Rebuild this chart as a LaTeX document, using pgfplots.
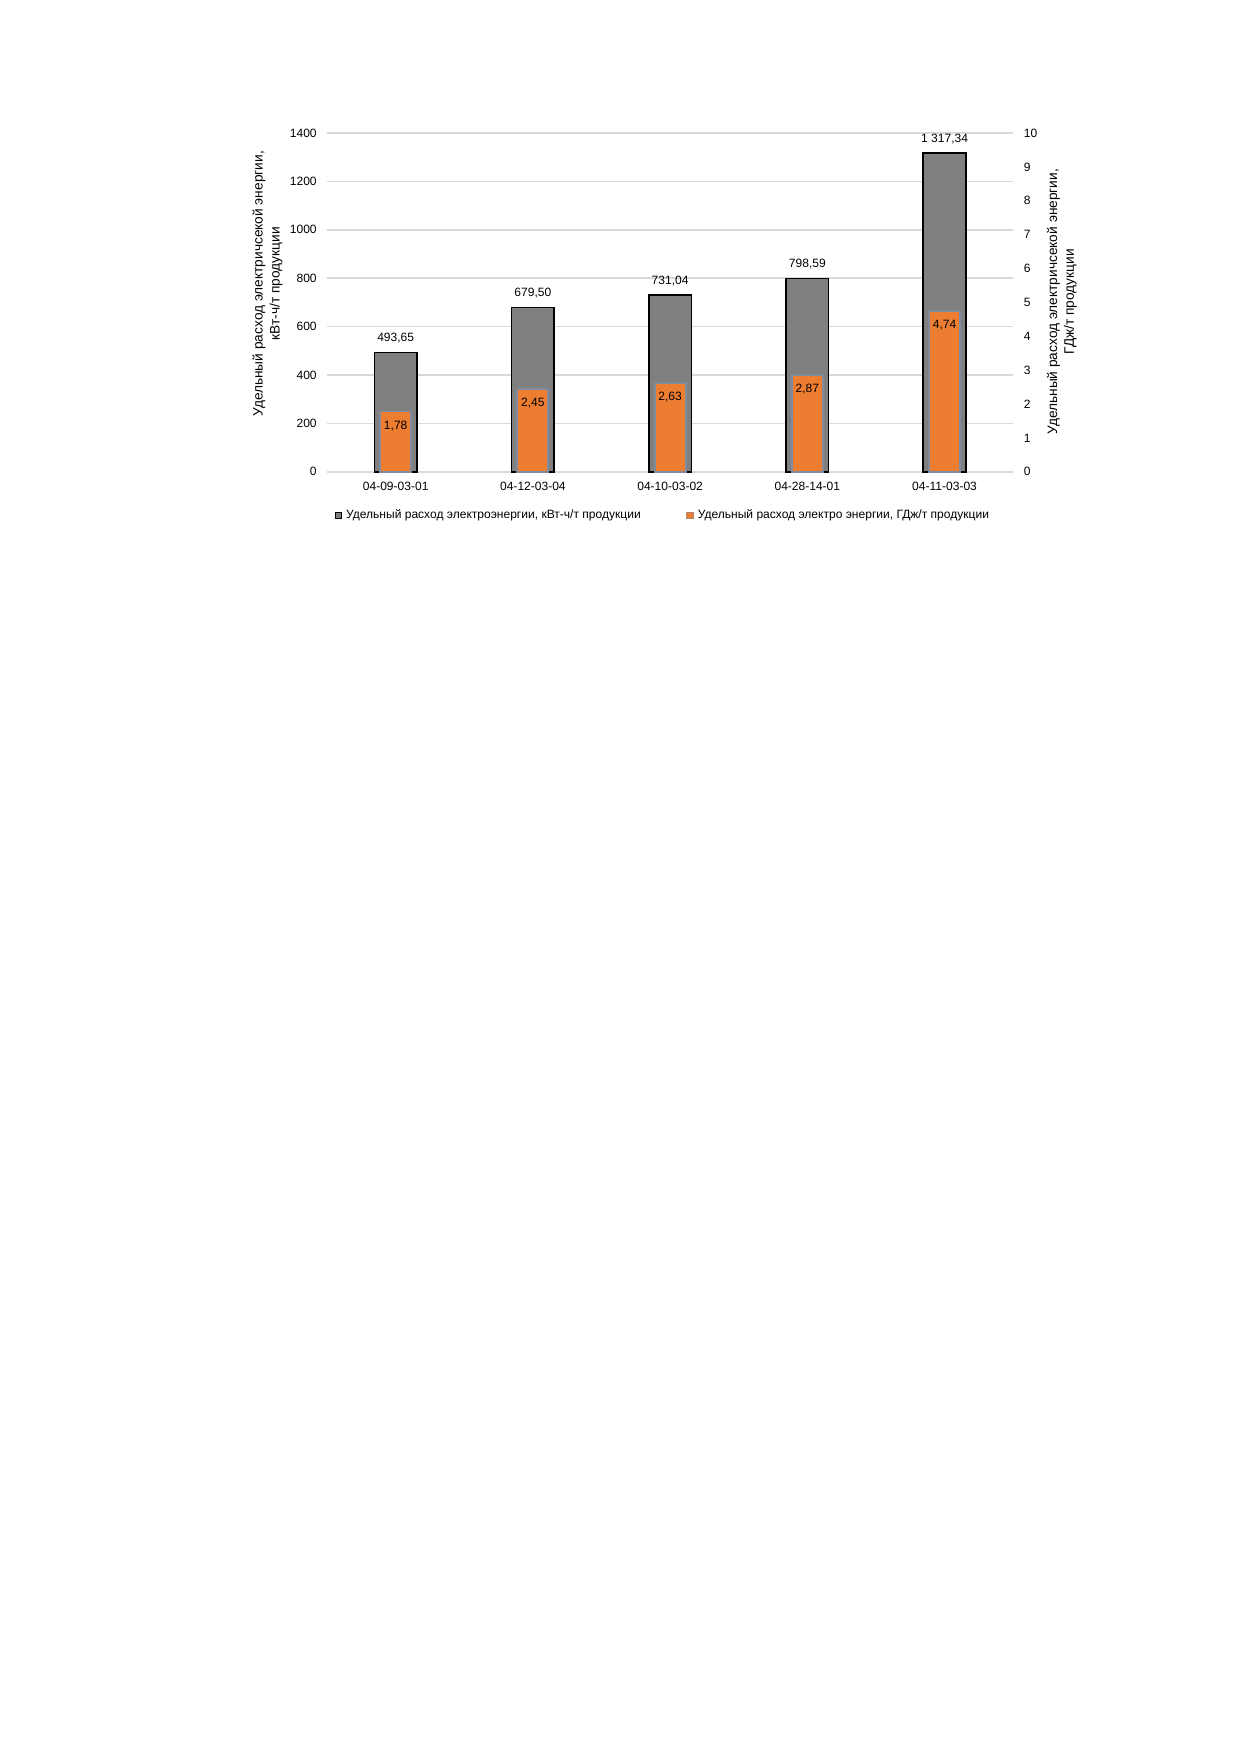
\documentclass[border=0pt]{standalone}
\usepackage{fontspec}
\setmainfont{Liberation Sans}
\usepackage{pgfplots}
\pgfplotsset{compat=1.18}
\definecolor{barGray}{RGB}{127,127,127}
\definecolor{barOrange}{RGB}{237,125,49}
\definecolor{edgeBlue}{RGB}{128,140,158}
\definecolor{gridGray}{RGB}{217,217,217}
\newcommand{\chartfont}{\fontsize{5.8}{7}\selectfont}
\newcommand{\labelfont}{\fontsize{6.6}{8.1}\selectfont}
\pgfplotsset{
  base/.style={
    at={(55.38mm,217.11mm)}, anchor=south west,
    scale only axis, width=116.18mm, height=57.36mm,
    xmin=-0.5, xmax=4.5,
    /pgf/number format/assume math mode=true,
    /pgf/number format/1000 sep={},
    font=\chartfont,
    tick label style={font=\chartfont},
    major tick length=0pt,
    axis line style={draw=none},
    clip=false,
  }
}
\begin{document}
\begin{tikzpicture}
\path[use as bounding box] (0,0) rectangle (210mm,297mm);
\begin{axis}[base,
  axis x line=bottom, axis y line=left,
  ymin=0, ymax=1400, ytick={0,200,...,1400},
  xtick={0,1,2,3,4},
  xticklabels={04-09-03-01,04-12-03-04,04-10-03-02,04-28-14-01,04-11-03-03},
  ymajorgrids, grid style={draw=gridGray, line width=0.7pt},
  xticklabel style={inner sep=0pt, yshift=-5pt},
  yticklabel style={inner sep=0pt, xshift=-4.8pt},
  ylabel={Удельный расход электричсекой энергии,\\кВт-ч/т продукции},
  ylabel style={at={(axis description cs:-0.0645,0.555)}, anchor=south, align=center, inner sep=0pt, font=\labelfont},
]
\addplot[ybar, bar width=7.2mm, fill=barGray, draw=black, line width=0.8pt,
  nodes near coords={\pgfmathprintnumber[fixed,fixed zerofill,precision=2,use comma,1000 sep={\ }]{\pgfplotspointmeta}},
  every node near coord/.append style={anchor=south, inner sep=0pt, yshift=4pt, text=black, draw=none, fill=none, font=\chartfont}]
  coordinates {(0,493.65) (1,679.50) (2,731.04) (3,798.59) (4,1317.34)};
\end{axis}
\begin{axis}[base,
  axis x line=none, axis y line=right,
  xtick=\empty,
  ymin=0, ymax=10, ytick={0,1,...,10},
  yticklabel style={inner sep=0pt, xshift=5pt},
  ylabel={Удельный расход электричсекой энергии,\\ГДж/т продукции},
  ylabel style={at={(axis description cs:1.0485,0.502)}, anchor=north, align=center, inner sep=0pt, font=\labelfont},
  legend style={at={(0.491,-0.128)}, anchor=center, draw=none, fill=none, font=\chartfont,
    legend columns=2, /tikz/every even column/.append style={column sep=20pt}},
]
\addlegendimage{legend image code/.code={\draw[fill=barGray,draw=black,line width=0.5pt] (0pt,-1.5pt) rectangle (3pt,1.5pt);}}
\addlegendentry{Удельный расход электроэнергии, кВт-ч/т продукции}
\addplot[ybar, bar width=5.25mm, fill=barOrange, draw=edgeBlue, line width=0.9pt,
  legend image code/.code={\draw[fill=barOrange,draw=edgeBlue!60!barOrange,line width=0.5pt] (0pt,-1.5pt) rectangle (3pt,1.5pt);},
  nodes near coords={\pgfmathprintnumber[fixed,fixed zerofill,precision=2,use comma]{\pgfplotspointmeta}},
  every node near coord/.append style={anchor=north, inner sep=0pt, yshift=-4pt, text=black, draw=none, fill=none, font=\chartfont}]
  coordinates {(0,1.78) (1,2.45) (2,2.63) (3,2.87) (4,4.74)};
\addlegendentry{Удельный расход электро энергии, ГДж/т продукции}
\end{axis}
\end{tikzpicture}
\end{document}
